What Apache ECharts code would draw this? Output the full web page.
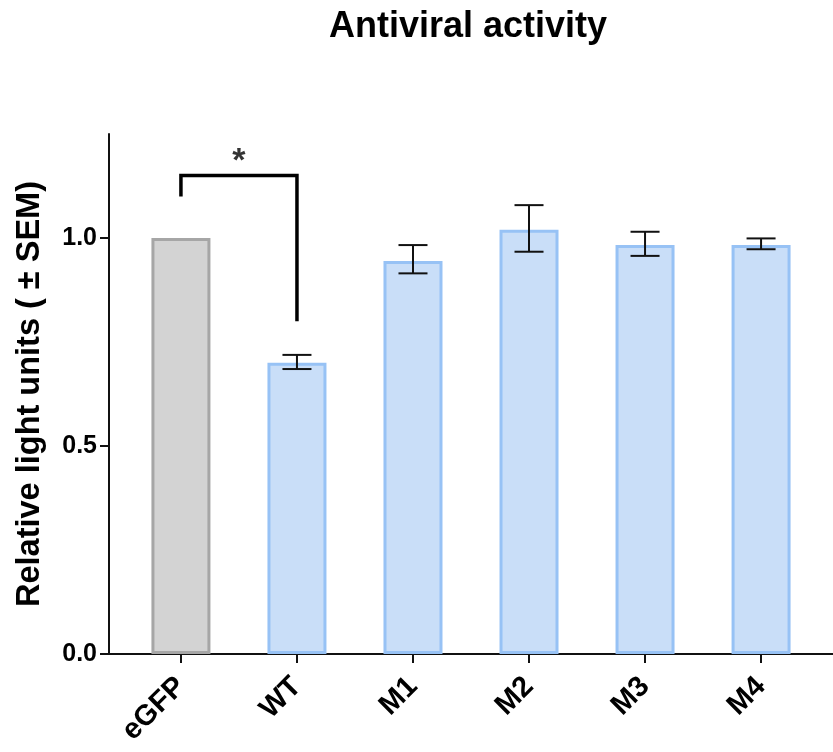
<!DOCTYPE html>
<html>
<head>
<meta charset="utf-8">
<script src="https://cdn.jsdelivr.net/npm/echarts@6/dist/echarts.min.js"></script>
<style>
  html, body { margin: 0; padding: 0; background: #fff; }
  #chart { width: 833px; height: 752px; }
</style>
</head>
<body>
<div id="chart"></div>
<script>
const categories = ['eGFP', 'WT', 'M1', 'M2', 'M3', 'M4'];
const means = [1.0, 0.70, 0.945, 1.02, 0.983, 0.983];
const errLow = [null, 0.685, 0.915, 0.967, 0.957, 0.973];
const errHigh = [null, 0.719, 0.983, 1.079, 1.015, 0.999];
const yTicks = [0, 0.5, 1.0];
const bracket = [[0, 1.1], [0, 1.15], [1, 1.15], [1, 0.8]];
const starPoint = [[0.5, 1.2]];

const FONT = "'Liberation Sans', Arial, Helvetica, sans-serif";
const grey = { color: '#d3d3d3', borderColor: '#a6a6a6', borderWidth: 3 };
const blue = { color: '#c9def8', borderColor: '#97c2f5', borderWidth: 3 };

const barData = means.map((v, i) => ({ value: [i, v], itemStyle: i === 0 ? grey : blue }));
const errData = [];
means.forEach((v, i) => { if (errLow[i] != null) errData.push([i, errLow[i], errHigh[i]]); });
const catIdx = categories.map((c, i) => i);

const chart = echarts.init(document.getElementById('chart'), null, { renderer: 'canvas' });
chart.setOption({
  animation: false,
  backgroundColor: '#ffffff',
  textStyle: { fontFamily: FONT },
  title: {
    text: 'Antiviral activity',
    left: 329, top: 9, padding: 0,
    textStyle: { fontFamily: FONT, fontSize: 36, fontWeight: 'bold', color: '#000' }
  },
  grid: { left: 109, right: 0, top: 134, bottom: 98, containLabel: false },
  xAxis: {
    type: 'value', min: -0.62, max: 5.62,
    axisLine: { show: true, onZero: false, lineStyle: { color: '#111', width: 2 } },
    axisTick: { show: true, customValues: catIdx, length: 9, lineStyle: { color: '#111', width: 2 } },
    axisLabel: {
      customValues: catIdx, rotate: 45, margin: 28,
      formatter: v => categories[Math.round(v)],
      fontFamily: FONT, fontSize: 29, fontWeight: 'bold', color: '#000'
    },
    splitLine: { show: false }
  },
  yAxis: {
    type: 'value', min: 0, max: 1.25,
    name: 'Relative light units ( ± SEM)', nameLocation: 'middle', nameGap: 62,
    nameTextStyle: { fontFamily: FONT, fontSize: 32.5, fontWeight: 'bold', color: '#000' },
    axisLine: { show: true, onZero: false, lineStyle: { color: '#111', width: 2 } },
    axisTick: { show: true, customValues: yTicks, length: 9, lineStyle: { color: '#111', width: 2 } },
    axisLabel: {
      customValues: yTicks, margin: 12,
      formatter: v => v.toFixed(1),
      fontFamily: FONT, fontSize: 25, fontWeight: 'bold', color: '#000'
    },
    splitLine: { show: false }
  },
  series: [
    { type: 'bar', data: barData, barWidth: 59, z: 2 },
    {
      type: 'custom', z: 5, data: errData,
      renderItem: function (params, api) {
        const x = api.value(0);
        const lo = api.coord([x, api.value(1)]);
        const hi = api.coord([x, api.value(2)]);
        const hw = 14.5;
        const st = { stroke: '#111', lineWidth: 2 };
        return { type: 'group', children: [
          { type: 'line', shape: { x1: lo[0], y1: lo[1], x2: hi[0], y2: hi[1] }, style: st },
          { type: 'line', shape: { x1: lo[0] - hw, y1: lo[1], x2: lo[0] + hw, y2: lo[1] }, style: st },
          { type: 'line', shape: { x1: hi[0] - hw, y1: hi[1], x2: hi[0] + hw, y2: hi[1] }, style: st }
        ]};
      }
    },
    {
      type: 'line', data: bracket, symbol: 'none', z: 6,
      lineStyle: { color: '#000', width: 3.5, join: 'miter', cap: 'butt' }
    },
    {
      type: 'scatter', data: starPoint, symbolSize: 0, z: 6,
      label: { show: true, position: 'inside', formatter: '*', offset: [0, 7],
        fontFamily: FONT, fontSize: 34, fontWeight: 'bold', color: '#000' }
    }
  ]
});
</script>
</body>
</html>
